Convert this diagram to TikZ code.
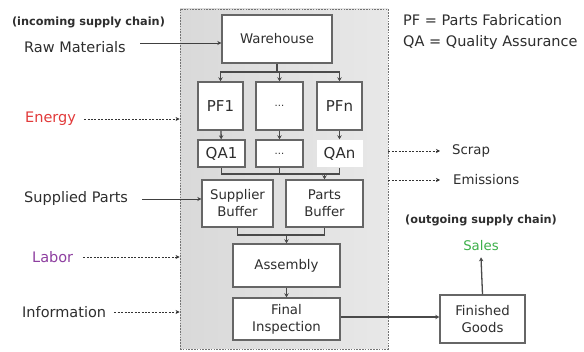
\documentclass[tikz,border=0pt]{standalone}
\usepackage{fontspec}
\setmainfont{DejaVu Sans}
\usetikzlibrary{arrows.meta}
\definecolor{boxgray}{HTML}{666666}
\definecolor{linegray}{HTML}{4A4A4A}
\definecolor{txt}{HTML}{2E2E2E}
\definecolor{energyred}{HTML}{E23A3A}
\definecolor{laborpurple}{HTML}{8E3FA0}
\definecolor{salesgreen}{HTML}{3DB04A}
\newcommand\flab{\fontsize{14.5}{17}\selectfont}
\newcommand\fboxt{\fontsize{13.3}{17}\selectfont}
\newcommand\fpf{\fontsize{15}{17}\selectfont}
\newcommand\fsc{\fontsize{11.3}{13}\selectfont\bfseries}
\begin{document}
\begin{tikzpicture}[x=1pt,y=-1pt,
  stepbox/.style={draw=boxgray, line width=1.4pt, fill=white, inner sep=0pt, align=center, text=txt, font=\fboxt},
  pfbox/.style={stepbox, font=\fpf},
  lab/.style={anchor=west, text=txt, font=\flab, inner sep=0pt},
  conn/.style={draw=linegray, line width=1.3pt},
  arr/.style={conn, -{Stealth[length=4pt,width=4.5pt]}},
  dotarr/.style={draw=black!80, line width=0.7pt, dash pattern=on 2pt off 1.4pt, -{Stealth[length=4pt,width=4pt]}},
  solarr/.style={draw=black!75, line width=0.9pt, -{Stealth[length=4pt,width=4pt]}}]
\useasboundingbox (0,0) rectangle (584,352);
\fill[white] (0,0) rectangle (584,352);
% outer plant box
\node[draw=black!55, dash pattern=on 1.6pt off 1.2pt, line width=0.8pt, left color=gray!30, right color=gray!18,
      minimum width=208pt, minimum height=340pt, inner sep=0pt] (plant) at (284,179) {};
% boxes
\node[stepbox, minimum width=110pt, minimum height=48pt] (wh) at (277,39) {Warehouse};
\node[pfbox, minimum width=45pt, minimum height=48pt] (pf1) at (220.5,106) {PF1};
\node[pfbox, minimum width=47pt, minimum height=48pt, font=\fontsize{10}{12}\selectfont] (pfd) at (279.5,106) {...};
\node[pfbox, minimum width=45pt, minimum height=48pt] (pfn) at (339.5,106) {PFn};
\node[pfbox, minimum width=47pt, minimum height=27pt] (qa1) at (221.5,153.5) {QA1};
\node[pfbox, minimum width=47pt, minimum height=27pt, font=\fontsize{10}{12}\selectfont] (qad) at (279.5,153.5) {...};
\node[pfbox, draw=none, minimum width=46pt, minimum height=27pt] (qan) at (339.5,153.5) {QAn};
\node[stepbox, minimum width=71pt, minimum height=47pt] (sb) at (237.5,203.5) {Supplier\\Buffer};
\node[stepbox, minimum width=77pt, minimum height=47pt] (pb) at (324.5,203.5) {Parts\\Buffer};
\node[stepbox, minimum width=107pt, minimum height=43pt] (asm) at (286.5,265.5) {Assembly};
\node[stepbox, minimum width=107pt, minimum height=42pt] (fi) at (286.5,319) {Final\\Inspection};
\node[stepbox, minimum width=85pt, minimum height=48pt] (fg) at (482.5,319) {Finished\\Goods};
% internal connectors
\coordinate (j1) at (277,72);
\draw[conn] (wh.south) -- (j1);
\draw[arr] (j1) -| (pf1.north);
\draw[arr] (j1) -| (pfd.north);
\draw[arr] (j1) -| (pfn.north);
\draw[arr] (pf1) -- (qa1);
\draw[arr] (pfd) -- (qad);
\draw[arr] (pfn) -- (qan);
\coordinate (j2) at (324.5,174);
\draw[conn] (qa1.south) |- (qan.south |- j2) -- (qan.south);
\draw[conn] (qad.south) -- (qad.south |- j2);
\draw[arr] (j2) -- (pb.north);
\coordinate (j3) at (286.5,235);
\draw[conn] (sb.south) |- (pb.south |- j3) -- (pb.south);
\draw[arr] (j3) -- (asm.north);
\draw[arr] (asm) -- (fi);
\draw[arr] (fi.east |- 0,317) -- (fg.west |- 0,317);
% outgoing
\node[text=txt, font=\fsc, inner sep=0pt] (outsc) at (481,220) {(outgoing supply chain)};
\node[text=salesgreen, font=\fboxt, inner sep=0pt] (sales) at (481,246) {Sales};
\draw[arr] (fg.north) -- ([yshift=-6pt]sales.south);
\node[lab, font=\fboxt] (scrap) at (452,151) {Scrap};
\node[lab, font=\fboxt] (emis) at (453,180) {Emissions};
\coordinate (sc0) at (plant.east |- scrap);
\coordinate (em0) at (plant.east |- emis);
\draw[dotarr] (sc0) -- ([xshift=-12pt]scrap.west);
\draw[dotarr] (em0) -- ([xshift=-13pt]emis.west);
% incoming
\node[text=txt, font=\fsc, inner sep=0pt] (insc) at (88.5,22) {(incoming supply chain)};
\node[lab] (raw) at (24,47) {Raw Materials};
\node[lab, text=energyred] (energy) at (25,119) {Energy};
\node[lab] (supp) at (24,199) {Supplied Parts};
\node[lab, text=laborpurple] (labor) at (32,257) {Labor};
\node[lab] (info) at (22,312) {Information};
\coordinate (rm0) at (140,43);
\draw[solarr] (rm0) -- (wh.west |- rm0);
\draw[dotarr] ([xshift=8pt]energy.east) -- (plant.west |- energy);
\draw[solarr] ([xshift=14pt]supp.east) -- (sb.west |- supp);
\draw[dotarr] ([xshift=10pt]labor.east) -- (plant.west |- labor);
\draw[dotarr] ([xshift=8pt]info.east) -- (plant.west |- info);
% legend
\node[lab] (leg1) at (403,20) {PF = Parts Fabrication};
\node[lab] (leg2) at (403,43) {QA = Quality Assurance};
\end{tikzpicture}
\end{document}
